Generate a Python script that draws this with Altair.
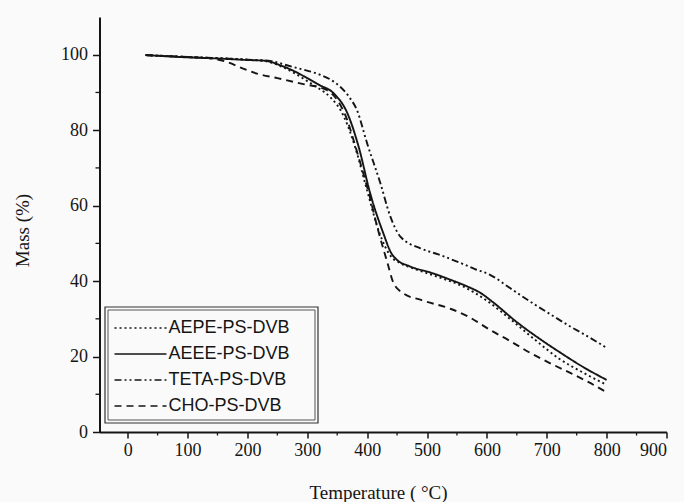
import altair as alt
import pandas as pd

series_names = ["AEPE-PS-DVB", "AEEE-PS-DVB", "TETA-PS-DVB", "CHO-PS-DVB"]

aepe_t = [30, 100, 150, 200, 230, 255, 280, 300, 320, 340, 360, 380, 400, 420, 440, 455, 480, 520, 560, 600, 640, 680, 720, 760, 800]
aepe_m = [99.9, 99.4, 99.1, 98.7, 98.3, 97.0, 95.0, 93.0, 91.0, 88.5, 84.0, 75.5, 64.0, 53.0, 46.5, 44.8, 43.2, 41.0, 38.6, 34.8, 29.8, 24.5, 19.5, 15.8, 12.5]

aeee_t = [30, 100, 150, 200, 230, 255, 280, 300, 320, 344, 367, 386, 405, 427, 440, 450, 470, 511, 540, 567, 590, 611, 651, 690, 724, 760, 800]
aeee_m = [99.9, 99.3, 99.0, 98.6, 98.4, 97.2, 95.5, 93.8, 92.0, 89.8, 84.5, 75.5, 63.3, 52.7, 47.5, 45.6, 44.0, 42.0, 40.3, 38.6, 36.8, 34.3, 29.0, 24.5, 20.9, 17.3, 13.8]

teta_t = [30, 100, 150, 200, 240, 266, 290, 316, 340, 355, 370, 383, 400, 422, 439, 456, 489, 520, 556, 580, 606, 640, 673, 706, 740, 770, 798]
teta_m = [99.9, 99.4, 99.1, 98.7, 98.3, 97.2, 96.2, 95.0, 93.3, 91.5, 88.8, 85.3, 76.5, 66.0, 57.0, 51.7, 48.7, 47.0, 44.8, 43.2, 41.6, 38.0, 34.5, 31.2, 27.9, 25.2, 22.5]

cho_t = [30, 100, 140, 166, 190, 216, 250, 288, 333, 350, 367, 378, 391, 405, 417, 434, 444, 460, 490, 540, 570, 606, 640, 673, 706, 740, 770, 800]
cho_m = [99.9, 99.4, 99.0, 98.1, 96.5, 95.0, 93.8, 92.4, 90.6, 88.0, 82.6, 77.0, 70.0, 62.0, 54.3, 44.8, 39.5, 36.8, 35.0, 32.6, 30.5, 27.0, 24.0, 20.9, 18.2, 15.6, 13.2, 10.5]

x_major = [0, 100, 200, 300, 400, 500, 600, 700, 800, 900]
x_minor = [50, 150, 250, 350, 450, 550, 650, 750, 850]
y_major = [0, 20, 40, 60, 80, 100]
y_minor = [10, 30, 50, 70, 90]

dash_patterns = [[2, 3], [1, 0], [7, 3, 2, 3, 2, 3], [7, 5]]

rows = []
for name, ts, ms in zip(series_names, [aepe_t, aeee_t, teta_t, cho_t], [aepe_m, aeee_m, teta_m, cho_m]):
    for t, m in zip(ts, ms):
        rows.append({"series": name, "T": t, "M": m})
df = pd.DataFrame(rows)

W, H = 567, 415
ink = "#151515"
serif = "Liberation Serif"

x_scale = alt.Scale(domain=[-47, 900], nice=False, zero=False)
y_scale = alt.Scale(domain=[0, 110], nice=False, zero=False)

lines = alt.Chart(df).mark_line(color=ink, strokeWidth=1.9, interpolate="monotone").encode(
    x=alt.X("T:Q", scale=x_scale, axis=alt.Axis(
        values=x_major, title="Temperature ( °C)", grid=False,
        tickSize=6, tickWidth=1.5, tickColor=ink, domainWidth=2, domainColor=ink,
        labelFont=serif, labelFontSize=18, labelColor=ink, labelPadding=3,
        titleFont=serif, titleFontSize=19, titleFontWeight="normal", titleColor=ink,
        titleX=278.5, titleY=60, titleBaseline="middle", titleAlign="center")),
    y=alt.Y("M:Q", scale=y_scale, axis=alt.Axis(
        values=y_major, title="Mass (%)", grid=False,
        tickSize=7, tickWidth=1.5, tickColor=ink, domainWidth=2, domainColor=ink,
        labelFont=serif, labelFontSize=18, labelColor=ink, labelPadding=5,
        titleFont=serif, titleFontSize=19, titleFontWeight="normal", titleColor=ink,
        titleAngle=270, titleX=-77, titleY=213, titleBaseline="middle", titleAlign="center")),
    strokeDash=alt.StrokeDash("series:N",
        scale=alt.Scale(domain=series_names, range=dash_patterns),
        legend=alt.Legend(orient="none", legendX=14, legendY=302, title=None,
                          symbolType="stroke", symbolSize=2700, symbolStrokeWidth=1.7,
                          symbolStrokeColor=ink, clipHeight=18,
                          labelFont="Liberation Sans", labelFontSize=18, labelColor=ink,
                          labelOffset=1, rowPadding=8, padding=0)),
)

minor_x = alt.Chart(pd.DataFrame({"T": x_minor})).mark_rule(color=ink, strokeWidth=1.3).encode(
    x=alt.X("T:Q", scale=x_scale),
    y=alt.value(H), y2=alt.value(H + 3.5),
)
minor_y = alt.Chart(pd.DataFrame({"M": y_minor})).mark_rule(color=ink, strokeWidth=1.3).encode(
    y=alt.Y("M:Q", scale=y_scale),
    x=alt.value(0), x2=alt.value(-4),
)

box = pd.DataFrame({"k": [0]})
outer = alt.Chart(box).mark_rect(fillOpacity=0, stroke="#333", strokeWidth=1.2).encode(
    x=alt.value(5.5), x2=alt.value(218.5), y=alt.value(290), y2=alt.value(406))
inner = alt.Chart(box).mark_rect(fillOpacity=0, stroke="#555", strokeWidth=1).encode(
    x=alt.value(8.5), x2=alt.value(215.5), y=alt.value(293), y2=alt.value(403))

chart = alt.layer(outer, inner, lines, minor_x, minor_y).properties(
    width=W, height=H,
    autosize=alt.AutoSizeParams(type="none"),
    padding={"left": 99.5, "top": 17, "right": 17.5, "bottom": 70},
    background="#fafafa",
).configure_view(stroke=None)

chart.save("out.html", embed_options={"renderer": "svg", "actions": False})
